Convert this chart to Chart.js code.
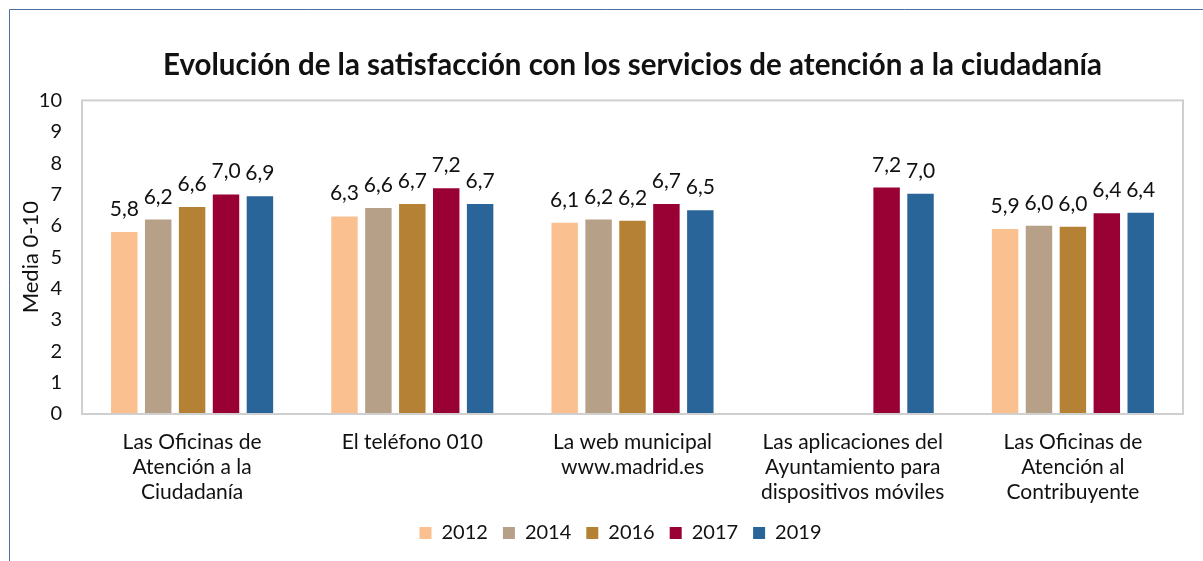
<!DOCTYPE html>
<html>
<head>
<meta charset="utf-8">
<script src="https://cdn.jsdelivr.net/npm/chart.js@4/dist/chart.umd.min.js"></script>
<style>
  html, body { margin: 0; padding: 0; background: #fff; }
  #wrap { width: 1203px; height: 561px; position: relative; }
</style>
</head>
<body>
<div id="wrap"><canvas id="chart" width="1203" height="561"></canvas></div>
<script>
'use strict'

// categories (multi-line labels)
const categories = [
  ['Las Oficinas de', 'Atención a la', 'Ciudadanía'],
  ['El teléfono 010'],
  ['La web municipal', 'www.madrid.es'],
  ['Las aplicaciones del', 'Ayuntamiento para', 'dispositivos móviles'],
  ['Las Oficinas de', 'Atención al', 'Contribuyente']
]

const years = ['2012', '2014', '2016', '2017', '2019']

// mean satisfaction 0-10, per year
const values2012 = [5.8, 6.3, 6.1, null, 5.9]
const values2014 = [6.2, 6.57, 6.2, null, 6.0]
const values2016 = [6.6, 6.7, 6.16, null, 5.97]
const values2017 = [7.0, 7.2, 6.7, 7.22, 6.4]
const values2019 = [6.94, 6.7, 6.5, 7.02, 6.42]

const yTicks = [0, 1, 2, 3, 4, 5, 6, 7, 8, 9, 10]

const colors = ['#FAC090', '#B7A088', '#B58235', '#990033', '#2A6599']

const FONT = 'Lato'

const fmt = v => v.toFixed(1).replace('.', ',')

const valueLabels = {
  id: 'valueLabels',
  afterDatasetsDraw(chart) {
    const ctx = chart.ctx
    ctx.save()
    ctx.font = '21px ' + FONT
    ctx.fillStyle = '#111'
    ctx.textAlign = 'center'
    ctx.textBaseline = 'alphabetic'
    chart.data.datasets.forEach((ds, i) => {
      chart.getDatasetMeta(i).data.forEach((bar, j) => {
        const v = ds.data[j]
        if (v == null) return
        ctx.fillText(fmt(v), bar.x, bar.y - 16)
      })
    })
    ctx.restore()
  }
}

// legend sits a bit right of centre and a bit lower than the layout puts it
const legendPlace = {
  id: 'legendPlace',
  afterLayout(chart) {
    const lg = chart.legend
    lg.left += 29
    lg.right += 29
    lg.top = chart.height - 8 - lg.height
    lg.bottom = lg.top + lg.height
  }
}

const frames = {
  id: 'frames',
  beforeDraw(chart) {
    const ctx = chart.ctx
    ctx.save()
    // outer frame (top + left)
    ctx.strokeStyle = '#4A6FA5'
    ctx.lineWidth = 1
    ctx.beginPath()
    ctx.moveTo(9.5, chart.height)
    ctx.lineTo(9.5, 9.5)
    ctx.lineTo(chart.width, 9.5)
    ctx.stroke()
    ctx.restore()
  },
  afterDraw(chart) {
    const ctx = chart.ctx
    const a = chart.chartArea
    ctx.save()
    ctx.strokeStyle = '#CFCFCF'
    ctx.lineWidth = 2
    ctx.strokeRect(a.left, a.top, a.right - a.left, a.bottom - a.top)
    ctx.restore()
  }
}

const series = [values2012, values2014, values2016, values2017, values2019]

new Chart(document.getElementById('chart'), {
  type: 'bar',
  data: {
    labels: categories,
    datasets: series.map((d, i) => ({
      label: years[i],
      data: d,
      backgroundColor: colors[i],
      borderWidth: 0,
      categoryPercentage: 0.77,
      barPercentage: 0.78
    }))
  },
  options: {
    responsive: false,
    animation: false,
    layout: { padding: { top: 48, right: 20, bottom: -5, left: 0 } },
    scales: {
      x: {
        grid: { display: false, drawTicks: false },
        border: { display: false },
        ticks: {
          color: '#111',
          font: { family: FONT, size: 21, lineHeight: 25 / 21 },
          padding: 16,
          maxRotation: 0,
          autoSkip: false
        }
      },
      y: {
        min: 0,
        max: 10,
        afterBuildTicks: s => { s.ticks = yTicks.map(v => ({ value: v })) },
        afterFit: s => { s.width = 82 },
        grid: { display: false, drawTicks: false },
        border: { display: false },
        ticks: {
          color: '#111',
          font: { family: FONT, size: 20 },
          padding: 20
        },
        title: {
          display: true,
          text: 'Media 0-10',
          color: '#111',
          font: { family: FONT, size: 22, lineHeight: 1.2 },
          padding: { top: 18, bottom: 0 }
        }
      }
    },
    plugins: {
      title: {
        display: true,
        fullSize: false,
        text: 'Evolución de la satisfacción con los servicios de atención a la ciudadanía',
        color: '#111',
        font: { family: FONT, size: 29.5, weight: 'bold', lineHeight: 1.2 },
        padding: { top: 0, bottom: 17 }
      },
      legend: {
        position: 'bottom',
        labels: {
          color: '#111',
          font: { family: FONT, size: 20 },
          boxWidth: 12,
          boxHeight: 12,
          padding: 15
        }
      },
      tooltip: { enabled: false }
    }
  },
  plugins: [valueLabels, legendPlace, frames]
})
</script>
</body>
</html>
